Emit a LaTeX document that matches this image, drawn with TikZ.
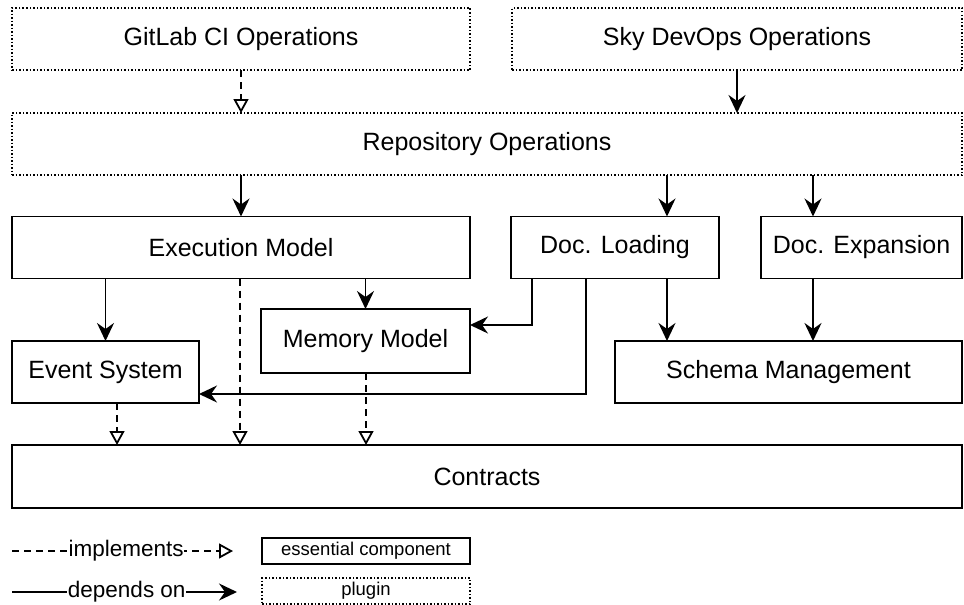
\documentclass[tikz,border=0pt]{standalone}
\usepackage{fontspec}
\setmainfont{Liberation Sans}
\usetikzlibrary{arrows.meta}
\tikzset{
	comp/.style={draw, line width=1.8pt, inner sep=0pt, outer sep=0pt, minimum height=62pt, font=\fontsize{25}{30}\selectfont},
	plug/.style={comp, line width=1.5pt, dash pattern=on 1.5pt off 2pt},
	dep/.style={line width=1.8pt, -{Stealth[length=18pt, width=17pt, inset=6pt]}},
	impl/.style={line width=1.8pt, dash pattern=on 7pt off 5pt, -{Triangle[open, length=14pt, width=15pt, line width=1.8pt]}}
}
\begin{document}
\begin{tikzpicture}[x=1pt, y=-1pt]
\useasboundingbox (0,0) rectangle (964,605);
\node[plug, minimum width=458pt] (gitlab) at (241,39) {GitLab CI Operations};
\node[plug, minimum width=450pt] (sky) at (737,39) {Sky DevOps Operations};
\node[plug, minimum width=950pt] (repo) at (487,144) {Repository Operations};
\node[comp, minimum width=458pt] (exec) at (241,247.5) {Execution Model};
\node[comp, minimum width=208pt] (load) at (615,247.5) {Doc. Loading};
\node[comp, minimum width=201pt] (expand) at (861.5,247.5) {Doc. Expansion};
\node[comp, minimum width=187pt] (event) at (105.5,372) {Event System};
\node[comp, minimum width=209pt, minimum height=64pt] (memory) at (365.5,341) {Memory Model};
\node[comp, minimum width=347pt] (schema) at (788.5,372) {Schema Management};
\node[comp, minimum width=950pt, minimum height=63pt] (contracts) at (487,476.5) {Contracts};
% plugins on top
\draw[impl] (gitlab.south) -- (gitlab.south |- repo.north);
\draw[dep] (sky.south) -- (sky.south |- repo.north);
\draw[dep] (exec.north |- repo.south) -- (exec.north);
\draw[dep] (667,0 |- repo.south) -- (667,0 |- load.north);
\draw[dep] (813,0 |- repo.south) -- (813,0 |- expand.north);
% middle layer
\draw[dep] (event.north |- exec.south) -- (event.north);
\draw[dep] (memory.north |- exec.south) -- (memory.north);
\draw[dep] (532,0 |- load.south) -- (532,325) -- (memory.east |- 0,325);
\draw[dep] (586,0 |- load.south) -- (586,394) -- (event.east |- 0,394);
\draw[dep] (667,0 |- load.south) -- (667,0 |- schema.north);
\draw[dep] (813,0 |- expand.south) -- (813,0 |- schema.north);
\foreach \x/\n in {117/event, 240/exec, 366/memory}
	\draw[impl] (\x,0 |- \n.south) -- (\x,0 |- contracts.north);
% legend
\coordinate (impla) at (12,551);
\coordinate (implb) at (233,551);
\coordinate (depa) at (12,592);
\coordinate (depb) at (237,592);
\draw[impl] (impla) -- (implb) node[pos=0.516, fill=white, inner sep=0.5pt, font=\fontsize{22.5}{27}\selectfont] {implements};
\draw[dep] (depa) -- (depb) node[pos=0.51, fill=white, inner sep=0.5pt, font=\fontsize{22.5}{27}\selectfont] {depends on};
\node[comp, minimum width=208pt, minimum height=26pt, font=\fontsize{18.5}{22}\selectfont] (essential) at (366,551) {essential component};
\node[plug, minimum width=208pt, minimum height=26pt, font=\fontsize{18.5}{22}\selectfont] (plugin) at (366,591) {plugin};
\end{tikzpicture}
\end{document}
